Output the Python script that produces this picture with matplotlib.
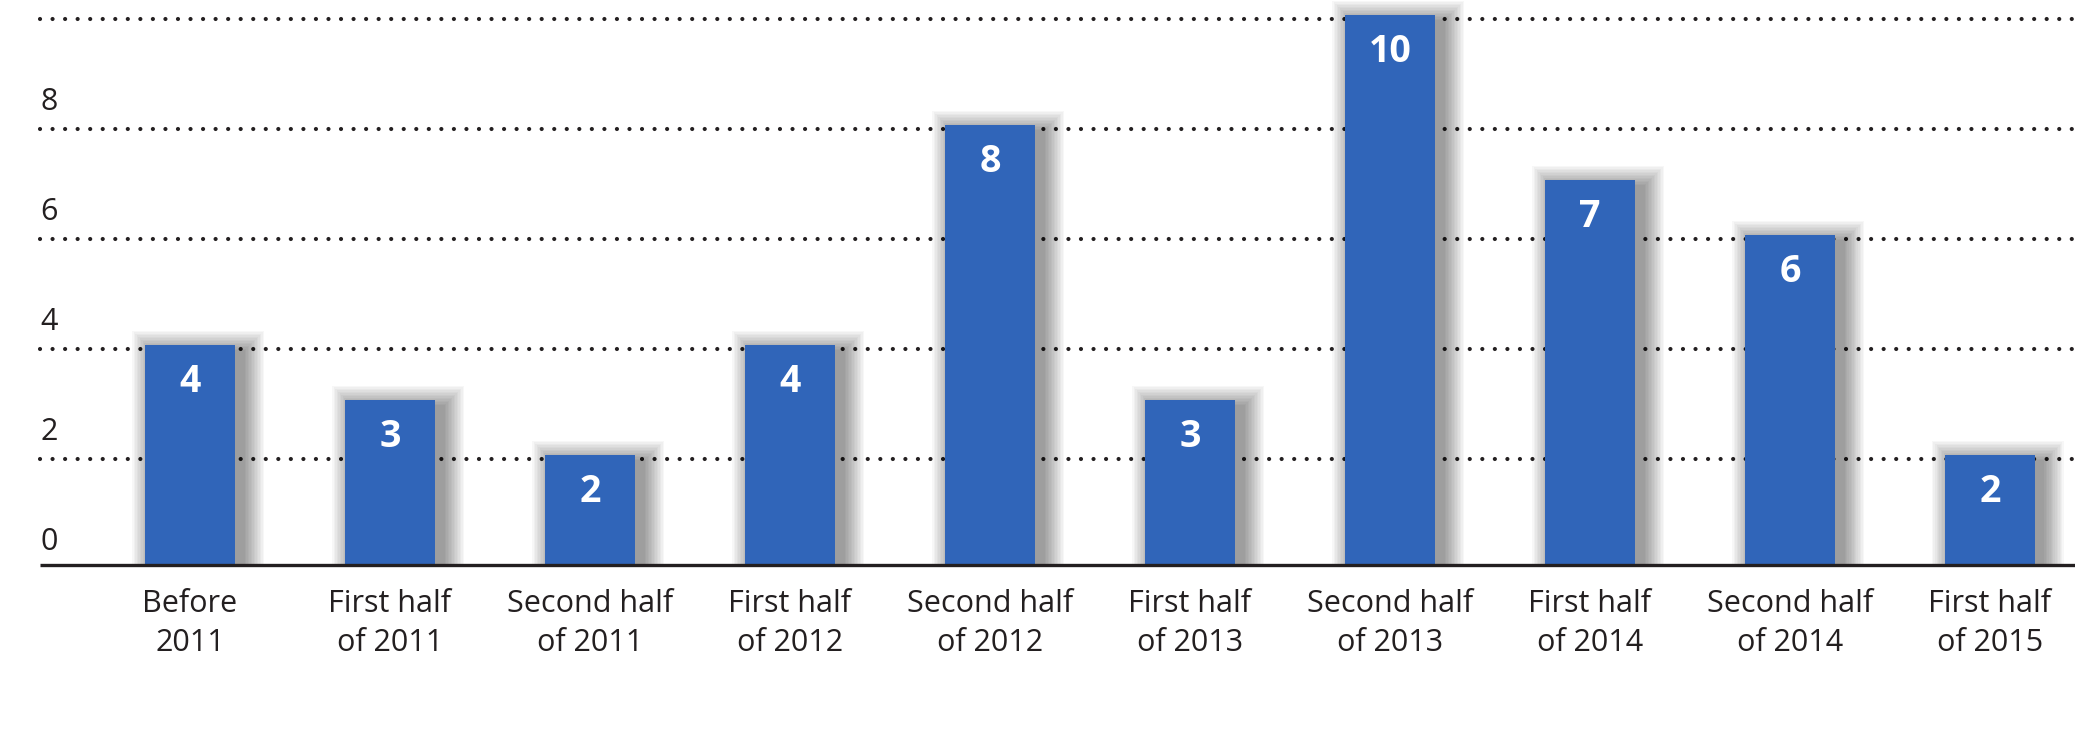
import matplotlib
matplotlib.use("Agg")
import matplotlib.pyplot as plt
from matplotlib.patches import Rectangle

categories = ["Before\n2011", "First half\nof 2011", "Second half\nof 2011",
              "First half\nof 2012", "Second half\nof 2012", "First half\nof 2013",
              "Second half\nof 2013", "First half\nof 2014", "Second half\nof 2014",
              "First half\nof 2015"]
values = [4, 3, 2, 4, 8, 3, 10, 7, 6, 2]
y_ticks = [0, 2, 4, 6, 8]
grid_levels = [2, 4, 6, 8, 10]

bar_color = "#3065b9"
text_color = "#231f20"
plt.rcParams['font.family'] = ['Open Sans', 'DejaVu Sans']

fig = plt.figure(figsize=(20.75, 7.48), dpi=100)
ax = fig.add_axes([0.0, 0.2447, 1.0, 0.7537])

# 1 unit x = 200 px, 1 unit y = 55 px
px_x = 1 / 200.0
px_y = 1 / 55.0
ax.set_xlim(-0.95, 9.425)
ax.set_ylim(0, 10.25)
grid_start = -0.75
width = 0.45

# dotted grid lines, sitting a hair below the values
for g in grid_levels:
    ax.plot([grid_start, 9.425], [g - 0.07, g - 0.07], color=text_color,
            lw=3.0, linestyle=(0, (0.01, 3.0)), dash_capstyle="round",
            zorder=1)

# soft shadow behind bars, mostly to the right
for i, v in enumerate(values):
    for k in range(1, 15):
        s = k * 1.5
        ax.add_patch(Rectangle((i - width / 2 - s * px_x + 8 * px_x, 0),
                               width + 2 * s * px_x, v + (s - 7) * px_y,
                               facecolor="black", edgecolor="none",
                               alpha=0.03, zorder=2))

ax.bar(range(len(values)), values, width=width, color=bar_color, zorder=3)

for i, v in enumerate(values):
    ax.text(i, v - 0.85, str(v), ha="center", va="baseline", color="white",
            fontsize=27, fontweight="bold", zorder=4)

for t in y_ticks:
    ax.text(grid_start, t + 0.27, str(t), ha="left", va="baseline",
            fontsize=22, color=text_color, zorder=4)

ax.plot([grid_start, 9.425], [0, 0], color=text_color, lw=2.4, zorder=5,
        solid_capstyle="butt", clip_on=False)

ax.set_xticks(range(len(categories)))
ax.set_xticklabels(categories, fontsize=22, color=text_color, linespacing=1.4)
ax.tick_params(axis="x", length=0, pad=17)
ax.set_yticks([])
for sp in ax.spines.values():
    sp.set_visible(False)

fig.savefig("out.png", dpi=100)
